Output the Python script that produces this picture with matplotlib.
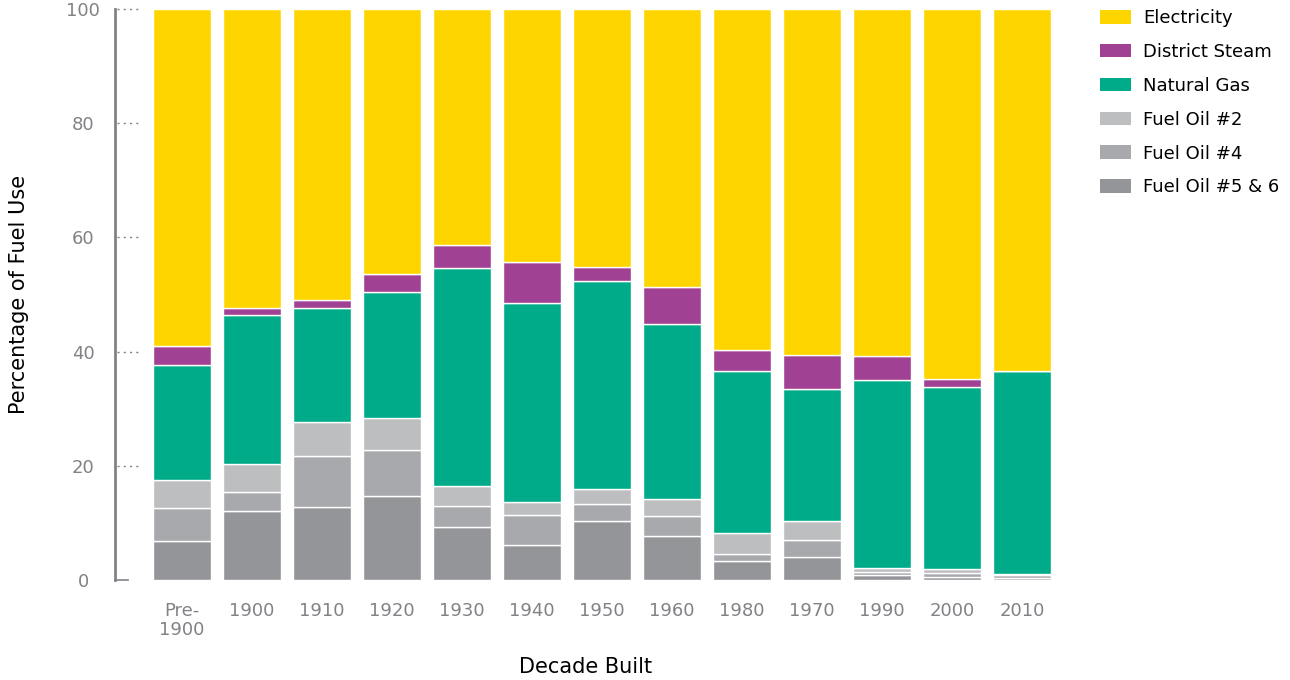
import matplotlib
matplotlib.use("Agg")
import matplotlib.pyplot as plt
from matplotlib.patches import Patch
import numpy as np

plt.rcParams["font.family"] = ["DejaVu Sans"]

GREY = "#808285"

decades = ["Pre-\n1900", "1900", "1910", "1920", "1930", "1940", "1950",
           "1960", "1980", "1970", "1990", "2000", "2010"]

fuel_oil_56 = [6.8, 12.1, 12.8, 14.7, 9.3, 6.2, 10.3, 7.7, 3.3, 4.1, 0.8, 0.6, 0.4]
fuel_oil_4 = [5.8, 3.3, 8.9, 8.1, 3.7, 5.1, 3.0, 3.5, 1.3, 2.9, 0.6, 0.6, 0.4]
fuel_oil_2 = [4.9, 5.0, 6.0, 5.6, 3.5, 2.4, 2.6, 2.9, 3.6, 3.4, 0.7, 0.7, 0.3]
natural_gas = [20.2, 26.0, 19.9, 22.0, 38.1, 34.8, 36.5, 30.8, 28.4, 23.0, 33.0, 31.9, 35.5]
district_steam = [3.3, 1.2, 1.4, 3.2, 4.1, 7.2, 2.5, 6.5, 3.6, 6.0, 4.1, 1.4, 0.0]
electricity = [59.0, 52.4, 51.0, 46.4, 41.3, 44.3, 45.1, 48.6, 59.8, 60.6, 60.8, 64.8, 63.4]

# bottom-to-top stacking order
series = [
    ("Fuel Oil #5 & 6", fuel_oil_56, "#939598"),
    ("Fuel Oil #4", fuel_oil_4, "#a7a9ac"),
    ("Fuel Oil #2", fuel_oil_2, "#bcbec0"),
    ("Natural Gas", natural_gas, "#00ab8a"),
    ("District Steam", district_steam, "#a14194"),
    ("Electricity", electricity, "#ffd500"),
]

W, H = 1290, 680
fig = plt.figure(figsize=(W / 100, H / 100), dpi=100)
ax = fig.add_axes([115 / W, 1 - 580 / H, (1057 - 115) / W, 571 / H])

x = np.arange(len(decades))
bottom = np.zeros(len(decades))
for name, vals, color in series:
    vals = np.array(vals)
    ax.bar(x, vals, width=0.83, bottom=bottom, color=color,
           edgecolor="white", linewidth=1.0, label=name)
    bottom += vals

ax.set_xlim(-0.957, 12.5)
ax.set_ylim(0, 100)

for s in ("top", "right", "bottom"):
    ax.spines[s].set_visible(False)
ax.spines["left"].set_color(GREY)
ax.spines["left"].set_linewidth(2)

# short foot at the base of the y axis
ax.plot([0, 0.014], [0, 0], transform=ax.get_yaxis_transform(),
        color=GREY, lw=1.2, clip_on=False)

# dotted tick marks
yt = [0, 20, 40, 60, 80, 100]
for v in yt[1:]:
    ax.plot([0.002, 0.025], [v, v], transform=ax.get_yaxis_transform(),
            color=GREY, lw=1, ls=(0, (1.5, 3)), clip_on=False)

ax.set_yticks(yt)
ax.set_yticklabels([str(v) for v in yt])
ax.tick_params(axis="y", length=0, pad=23, labelsize=13, labelcolor=GREY)
for lbl in ax.get_yticklabels():
    lbl.set_horizontalalignment("center")

ax.set_xticks(x)
ax.set_xticklabels(decades, linespacing=1.05)
ax.tick_params(axis="x", length=0, pad=16, labelsize=13, labelcolor=GREY)

ax.set_ylabel("Percentage of Fuel Use", fontsize=15, color="black")
ax.yaxis.set_label_coords(-0.091, 0.5)
ax.set_xlabel("Decade Built", fontsize=15, color="black", va="center")
ax.xaxis.set_label_coords(0.5, -0.152)

handles = [Patch(facecolor=c, edgecolor="none", label=n)
           for n, _, c in series[::-1]]
fig.legend(handles=handles, loc="upper left",
           bbox_to_anchor=(1100 / W, 1 - 9 / H), frameon=False,
           fontsize=13, handlelength=1.72, handleheight=0.78,
           handletextpad=0.66, labelspacing=0.88, borderpad=0,
           borderaxespad=0)

fig.savefig("out.png", dpi=100)
